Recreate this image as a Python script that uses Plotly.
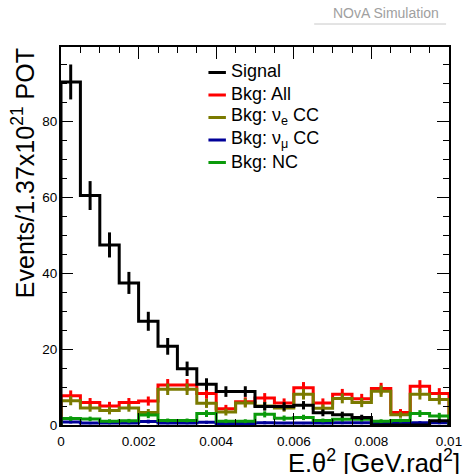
import plotly.graph_objects as go

# Binning in E*theta^2 [GeV rad^2]
bin_edges = [0.0, 0.0005, 0.001, 0.0015, 0.002, 0.0025, 0.003, 0.0035, 0.004, 0.0045,
             0.005, 0.0055, 0.006, 0.0065, 0.007, 0.0075, 0.008, 0.0085, 0.009, 0.0095, 0.01]

# Events per bin, scaled to 1.37e21 POT
signal = [90.3, 60.4, 47.4, 37.4, 27.3, 20.7, 14.8, 10.7, 8.8, 8.8,
          4.9, 4.9, 5.2, 3.2, 2.7, 2.0, 0.0, 0.0, 0.0, 1.1]
signal_err = [4.6, 3.8, 3.3, 2.9, 2.5, 2.2, 1.9, 1.6, 1.4, 1.4,
              1.1, 1.1, 1.1, 0.9, 0.8, 0.7, None, None, None, 0.5]

bkg_all = [7.7, 5.9, 5.0, 5.9, 6.3, 10.5, 10.5, 8.3, 4.3, 6.1,
           7.1, 5.8, 9.8, 5.8, 8.1, 6.9, 9.6, 3.3, 10.2, 8.3]
bkg_all_err = [1.4, 1.2, 1.1, 1.2, 1.2, 1.6, 1.6, 1.4, 1.0, 1.2,
               1.3, 1.2, 1.5, 1.2, 1.4, 1.3, 1.5, 0.9, 1.6, 1.4]

bkg_nue = [6.4, 4.5, 3.8, 4.5, 3.3, 9.4, 9.4, 5.7, 3.4, 5.8,
           5.0, 4.5, 8.1, 4.4, 7.0, 5.9, 8.9, 2.7, 8.1, 6.7]
bkg_nue_err = [1.2, 1.0, 1.0, 1.0, 0.9, 1.5, 1.5, 1.2, 0.9, 1.2,
               1.1, 1.0, 1.4, 1.0, 1.3, 1.2, 1.5, 0.8, 1.4, 1.3]

bkg_numu = [0.8, 0.5, 0.5, 0.5, 0.9, 0.5, 0.5, 0.7, 0.4, 0.4,
            0.6, 0.5, 0.5, 0.5, 0.6, 0.6, 0.5, 0.5, 0.6, 0.6]
bkg_numu_err = [0.4, 0.3, 0.3, 0.3, 0.5, 0.3, 0.3, 0.4, 0.3, 0.3,
                0.4, 0.3, 0.3, 0.3, 0.4, 0.4, 0.3, 0.3, 0.4, 0.4]

bkg_nc = [1.7, 1.6, 1.0, 1.1, 2.6, 1.2, 1.2, 3.0, 1.0, 1.0,
          2.8, 1.8, 2.0, 1.2, 1.5, 1.5, 1.0, 1.2, 3.0, 2.4]
bkg_nc_err = [0.6, 0.6, 0.5, 0.5, 0.8, 0.5, 0.5, 0.9, 0.5, 0.5,
              0.8, 0.7, 0.7, 0.5, 0.6, 0.6, 0.5, 0.5, 0.9, 0.8]

FONT = "Liberation Sans, Arial, Helvetica, sans-serif"

# Canvas / frame geometry (pixels)
W, H = 474, 474
FRAME_L, FRAME_R, FRAME_T, FRAME_B = 61, 461, 47, 425


def px_x(px):
    return (px - FRAME_L) / (FRAME_R - FRAME_L)


def px_y(py):
    return (FRAME_B - py) / (FRAME_B - FRAME_T)


bin_centers = [(lo + hi) / 2 for lo, hi in zip(bin_edges[:-1], bin_edges[1:])]


def outline(values):
    """Histogram outline that drops to zero at both ends (ROOT 'HIST' style)."""
    xs = [bin_edges[0]] + bin_edges[:-1] + [bin_edges[-1]]
    ys = [0] + list(values) + [0]
    return xs, ys


series = {
    "Signal": (signal, signal_err, "#000000"),
    "Bkg: All": (bkg_all, bkg_all_err, "#ff0000"),
    "Bkg: \u03bd<sub>e</sub> CC": (bkg_nue, bkg_nue_err, "#7a7a00"),
    "Bkg: \u03bd<sub>\u03bc</sub> CC": (bkg_numu, bkg_numu_err, "#000099"),
    "Bkg: NC": (bkg_nc, bkg_nc_err, "#0a9a0a"),
}
draw_order = ["Bkg: All", "Bkg: \u03bd<sub>e</sub> CC", "Bkg: \u03bd<sub>\u03bc</sub> CC",
              "Bkg: NC", "Signal"]
legend_order = list(series.keys())

fig = go.Figure()
for name in draw_order:
    vals, errs, col = series[name]
    xs, ys = outline(vals)
    fig.add_trace(go.Scatter(
        x=xs, y=ys, mode="lines", line=dict(color=col, width=3, shape="hv"),
        name=name, showlegend=False, hoverinfo="skip",
    ))
    fig.add_trace(go.Scatter(
        x=bin_centers, y=vals, mode="markers",
        marker=dict(size=1, color=col),
        error_y=dict(type="data", array=errs, visible=True, color=col, thickness=3, width=0),
        showlegend=False, hoverinfo="skip",
    ))

axis_common = dict(
    showline=True, linecolor="black", linewidth=2, mirror="ticks",
    ticks="inside", ticklen=12, tickwidth=1, tickcolor="black",
    showgrid=False, zeroline=False, ticklabeloverflow="allow",
    tickfont=dict(family=FONT, size=13.5, color="black"),
)

fig.update_xaxes(
    range=[0, 0.01], tickvals=[0, 0.002, 0.004, 0.006, 0.008, 0.01],
    ticktext=["0", "0.002", "0.004", "0.006", "0.008", "0.01"], ticklabelstandoff=3,
    minor=dict(dtick=0.0005, tick0=0, ticks="inside", ticklen=6, tickwidth=1, tickcolor="black"),
    **axis_common,
)
fig.update_yaxes(
    range=[0, 99.5], dtick=20, tick0=0, ticklabelstandoff=-1,
    minor=dict(dtick=5, ticks="inside", ticklen=6, tickwidth=1, tickcolor="black"),
    **axis_common,
)

annotations = [
    dict(text="E.\u03b8<sup>2</sup> [GeV.rad<sup>2</sup>]", xref="paper", yref="paper",
         x=px_x(293), y=px_y(461), xanchor="left", yanchor="middle", showarrow=False,
         font=dict(family=FONT, size=25.5, color="black")),
    dict(text="Events/1.37x10<sup>21</sup> POT", xref="paper", yref="paper",
         x=px_x(22), y=px_y(46), xanchor="center", yanchor="top", textangle=-90,
         showarrow=False, font=dict(family=FONT, size=25, color="black")),
    dict(text="NOvA Simulation", xref="paper", yref="paper",
         x=px_x(339), y=px_y(13), xanchor="left", yanchor="middle", showarrow=False,
         font=dict(family=FONT, size=14, color="#a0a0a0")),
]
shapes = [
    dict(type="line", xref="paper", yref="paper", x0=px_x(322), x1=px_x(458),
         y0=px_y(24), y1=px_y(24), line=dict(color="#c8c8c8", width=1)),
]

# Legend: short line sample followed by the label
LEG_LINE_X0, LEG_LINE_X1, LEG_TEXT_X = 213, 231, 234
LEG_TOP, LEG_STEP = 72.5, 22.5
for i, name in enumerate(legend_order):
    col = series[name][2]
    yy = LEG_TOP + i * LEG_STEP
    shapes.append(dict(type="line", xref="paper", yref="paper",
                       x0=px_x(LEG_LINE_X0), x1=px_x(LEG_LINE_X1),
                       y0=px_y(yy), y1=px_y(yy), line=dict(color=col, width=3)))
    annotations.append(dict(text=name, xref="paper", yref="paper",
                            x=px_x(LEG_TEXT_X), y=px_y(yy - 1), xanchor="left", yanchor="middle",
                            showarrow=False, font=dict(family=FONT, size=18, color="black")))

fig.update_layout(
    width=W, height=H,
    margin=dict(l=FRAME_L, r=W - FRAME_R, t=FRAME_T, b=H - FRAME_B),
    paper_bgcolor="white", plot_bgcolor="white",
    font=dict(family=FONT, color="black"),
    showlegend=False,
    annotations=annotations,
    shapes=shapes,
)

fig.write_html("out.html")
